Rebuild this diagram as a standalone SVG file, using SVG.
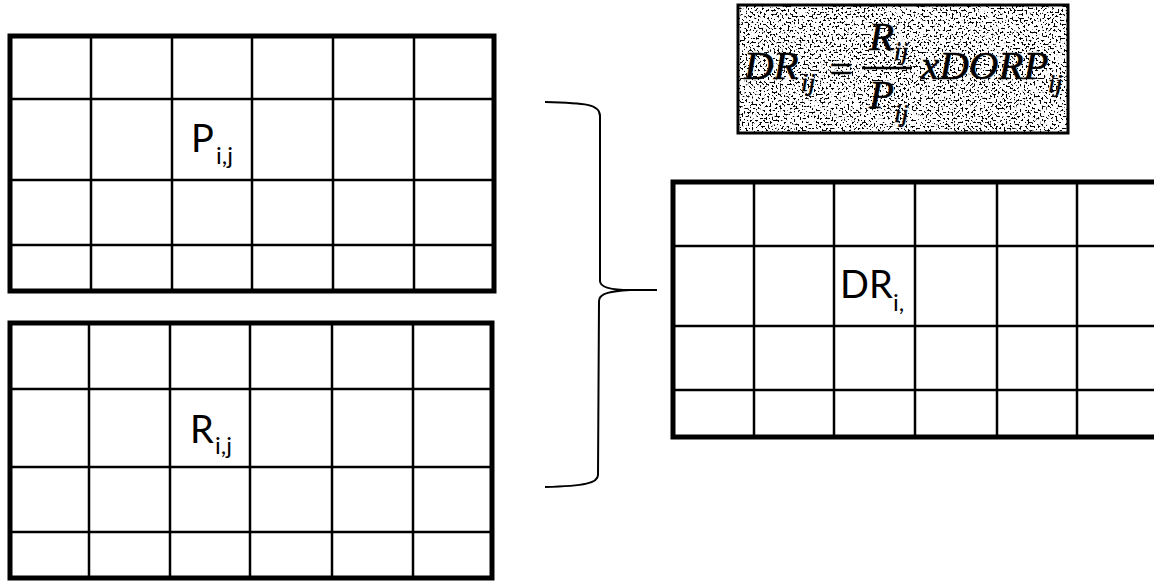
<svg xmlns="http://www.w3.org/2000/svg" width="1154" height="581" viewBox="0 0 1154 581">
<style>
.frame{fill:none;stroke:#000;stroke-width:5}
.cell{stroke:#000;stroke-width:2.5;fill:none}
.lbl{font-family:Lato,"Open Sans",sans-serif;font-size:38px;fill:#000}
.sub{font-family:Lato,"Open Sans",sans-serif;font-size:24px;fill:#000}
.fm{font-family:"Liberation Serif","DejaVu Serif",serif;font-style:italic;font-size:41px;fill:#000;stroke:#000;stroke-width:0.6}
.fs{font-family:"Liberation Serif","DejaVu Serif",serif;font-style:italic;font-size:26px;fill:#000;stroke:#000;stroke-width:0.5}
.brace{fill:none;stroke:#000;stroke-width:2}
</style>
<defs>
<filter id="speckle" x="0" y="0" width="100%" height="100%" filterUnits="objectBoundingBox">
<feTurbulence type="fractalNoise" baseFrequency="0.5" numOctaves="2" seed="7" result="n"/>
<feColorMatrix in="n" type="matrix" values="0 0 0 0 0  0 0 0 0 0  0 0 0 0 0  -14 0 0 0 6.4" result="dots"/>
<feFlood flood-color="#ffffff" result="w"/>
<feMerge result="m"><feMergeNode in="w"/><feMergeNode in="dots"/></feMerge>
<feComposite in="m" in2="SourceGraphic" operator="in"/>
</filter>
</defs>
<rect width="1154" height="581" fill="#fff"/>

<g id="grid-p">
<rect class="frame" x="10" y="36" width="484" height="255"/>
<path class="cell" d="M91 36V291M172 36V291M252 36V291M333 36V291M414 36V291M10 99H494M10 180H494M10 245H494"/>
<text class="lbl" x="191" y="152">P</text>
<text class="sub" x="216" y="164">i,j</text>
</g>

<g id="grid-r">
<rect class="frame" x="10" y="323" width="482" height="255"/>
<path class="cell" d="M89 323V578M170 323V578M250 323V578M332 323V578M413 323V578M10 389H492M10 467H492M10 532H492"/>
<text class="lbl" x="190" y="443">R</text>
<text class="sub" x="215" y="454">i,j</text>
</g>

<g id="grid-dr">
<rect class="frame" x="673" y="182" width="500" height="255"/>
<path class="cell" d="M754 182V437M834 182V437M915 182V437M997 182V437M1077 182V437M673 246H1173M673 326H1173M673 390H1173"/>
<text class="lbl" x="840" y="298">DR</text>
<text class="sub" x="893" y="311">i,</text>
</g>

<g id="formula">
<rect x="738" y="5" width="330" height="128" fill="#000" filter="url(#speckle)"/>
<rect x="738" y="5" width="330" height="128" fill="none" stroke="#000" stroke-width="3"/>
<text class="fm" x="744" y="79">DR</text>
<text class="fs" x="801" y="91">ij</text>
<text class="fm" x="827" y="83">=</text>
<line x1="862" y1="68" x2="912" y2="68" stroke="#000" stroke-width="2.5"/>
<text class="fm" x="869" y="50">R</text>
<text class="fs" x="894" y="60">ij</text>
<text class="fm" x="869" y="108">P</text>
<text class="fs" x="894" y="122">ij</text>
<text class="fm" x="921" y="79">xDORP</text>
<text class="fs" x="1048" y="92">ij</text>
</g>

<g id="connectors">
<path class="brace" d="M545 102C585 103 600 104 600 116L600 281C600 288 612 290 630 290L657 290M630 290C612 291 599 293 599 301L598 475C598 483 585 486 545 487"/>
</g>
</svg>
